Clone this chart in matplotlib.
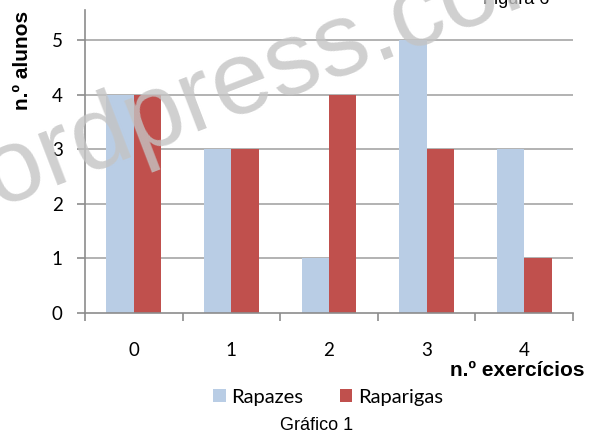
import matplotlib
matplotlib.use('Agg')
import matplotlib.pyplot as plt
import numpy as np

categories = ['0', '1', '2', '3', '4']
rapazes = [4, 3, 1, 5, 3]
raparigas = [4, 3, 4, 3, 1]

blue = '#B9CDE5'
red = '#C0504D'
grid_grey = '#A6A6A6'

fig = plt.figure(figsize=(6, 4.36), dpi=100)
ax = fig.add_axes([0.1417, 0.2821, 0.8133, 0.6949])

x = np.arange(len(categories))
w = 0.28
ax.bar(x - w / 2, rapazes, w, color=blue, label='Rapazes', zorder=2)
ax.bar(x + w / 2, raparigas, w, color=red, label='Raparigas', zorder=2)

ax.set_xlim(-0.5, len(categories) - 0.5)
ax.set_ylim(0, 5.55)

# horizontal gridlines
for v in range(1, 6):
    ax.axhline(v, color=grid_grey, lw=1.2, zorder=1)

for side in ['top', 'right']:
    ax.spines[side].set_visible(False)
for side in ['left', 'bottom']:
    ax.spines[side].set_color('#8C8C8C')
    ax.spines[side].set_linewidth(1.2)

ax.set_yticks(range(0, 6))
ax.tick_params(axis='y', length=6, width=1.2, color='#8C8C8C', pad=10,
               labelsize=13.5)
ax.set_xticks(np.arange(-0.5, len(categories)), labels=[''] * (len(categories) + 1))
ax.set_xticks(x, labels=categories, minor=True)
ax.tick_params(axis='x', which='major', length=6, width=1.2, color='#8C8C8C')
ax.tick_params(axis='x', which='minor', length=0, pad=21, labelsize=13.5)
for lab in ax.get_xticklabels(minor=True) + ax.get_yticklabels():
    lab.set_family('Lato')

fig.text(0.038, 0.862, 'n.º alunos', rotation=90, ha='center', va='center',
         fontsize=15, fontweight='bold', family='Liberation Sans')
fig.text(0.975, 0.151, 'n.º exercícios', ha='right', va='center',
         fontsize=15, fontweight='bold', family='Liberation Sans')
fig.text(0.527, 0.025, 'Gráfico 1', ha='center', va='center',
         fontsize=13, family='Liberation Sans')
fig.text(0.805, 0.991, 'Figura 6', ha='left', va='baseline',
         fontsize=13, family='Liberation Sans')

leg = fig.legend(loc='center', bbox_to_anchor=(0.547, 0.0894), ncol=2,
                 frameon=False, prop={'family': 'Lato', 'size': 14.5},
                 handlelength=0.6, handleheight=0.6, handletextpad=0.3,
                 columnspacing=1.8)

# watermark
fig.text(-0.122, 0.459, 'wordpress.com', rotation=21, rotation_mode='anchor',
         ha='left', va='baseline', fontsize=75, color='#C4C4C4', alpha=0.8,
         family='Liberation Sans', zorder=10)

fig.savefig('out.png', dpi=100)
